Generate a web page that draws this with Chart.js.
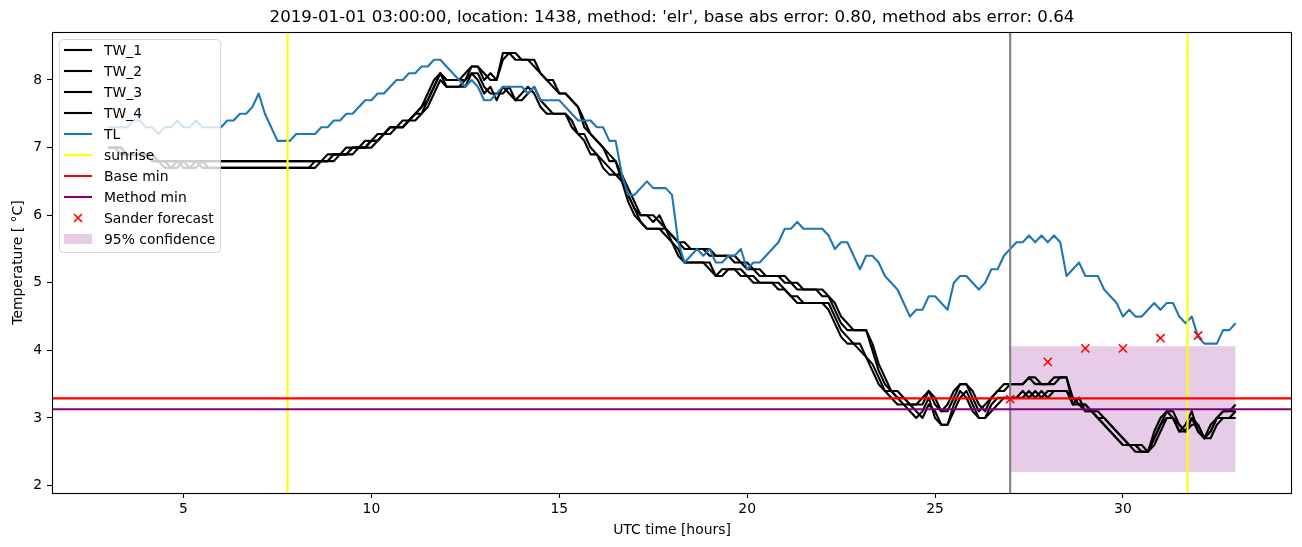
<!DOCTYPE html>
<html>
<head>
<meta charset="utf-8">
<script src="https://cdn.jsdelivr.net/npm/chart.js@4.4.1/dist/chart.umd.min.js"></script>
<style>
  html, body { margin: 0; padding: 0; background: #fff; }
</style>
</head>
<body>
<canvas id="chart" width="1302" height="547"></canvas>
<script>
// 10-minute samples from 03:00 to 33:00 UTC
const START_HOUR = 3;
const STEP_HOURS = 1 / 6;

const tw1 = [
  7.0, 7.0, 6.9, 6.9, 6.9, 6.9, 6.9, 6.8, 6.8, 6.8,
  6.8, 6.8, 6.8, 6.8, 6.8, 6.8, 6.8, 6.8, 6.8, 6.8,
  6.8, 6.8, 6.8, 6.8, 6.8, 6.8, 6.8, 6.8, 6.8, 6.8,
  6.8, 6.8, 6.8, 6.8, 6.8, 6.9, 6.9, 6.9, 7.0, 7.0,
  7.0, 7.1, 7.1, 7.2, 7.2, 7.3, 7.3, 7.4, 7.4, 7.5,
  7.6, 7.8, 8.0, 8.1, 8.0, 8.0, 8.0, 8.1, 8.2, 8.2,
  8.0, 8.1, 8.0, 8.4, 8.4, 8.3, 8.3, 8.3, 8.2, 8.1,
  8.0, 7.9, 7.8, 7.8, 7.7, 7.6, 7.3, 7.2, 7.1, 7.0,
  6.8, 6.8, 6.5, 6.3, 6.1, 6.0, 6.0, 5.9, 6.0, 5.8,
  5.7, 5.6, 5.5, 5.5, 5.5, 5.5, 5.4, 5.4, 5.4, 5.4,
  5.3, 5.3, 5.2, 5.2, 5.1, 5.1, 5.1, 5.1, 5.0, 5.0,
  4.9, 4.9, 4.9, 4.9, 4.8, 4.8, 4.6, 4.4, 4.3, 4.3,
  4.3, 4.3, 4.0, 3.7, 3.5, 3.4, 3.3, 3.3, 3.2, 3.2,
  3.3, 3.4, 3.2, 3.1, 3.2, 3.4, 3.5, 3.5, 3.3, 3.1,
  3.2, 3.3, 3.4, 3.5, 3.5, 3.5, 3.5, 3.6, 3.5, 3.5,
  3.5, 3.6, 3.6, 3.6, 3.2, 3.3, 3.1, 3.1, 3.0, 2.9,
  2.8, 2.7, 2.6, 2.6, 2.5, 2.5, 2.5, 2.8, 3.0, 3.1,
  3.0, 2.8, 2.9, 3.1, 2.8, 2.7, 2.9, 3.0, 3.1, 3.1,
  3.2
];
const tw2 = [
  7.0, 7.0, 7.0, 6.9, 6.9, 6.9, 6.9, 6.9, 6.8, 6.8,
  6.8, 6.8, 6.8, 6.8, 6.8, 6.8, 6.8, 6.8, 6.8, 6.8,
  6.8, 6.8, 6.8, 6.8, 6.8, 6.8, 6.8, 6.8, 6.8, 6.8,
  6.8, 6.8, 6.8, 6.8, 6.8, 6.8, 6.9, 6.9, 6.9, 7.0,
  7.0, 7.0, 7.1, 7.1, 7.2, 7.3, 7.3, 7.3, 7.4, 7.5,
  7.6, 7.7, 7.9, 8.1, 8.0, 8.0, 8.0, 8.0, 8.2, 8.2,
  8.1, 8.0, 8.0, 8.3, 8.4, 8.4, 8.3, 8.3, 8.3, 8.1,
  8.0, 8.0, 7.8, 7.8, 7.7, 7.6, 7.4, 7.2, 7.1, 7.0,
  6.9, 6.8, 6.6, 6.4, 6.2, 6.0, 6.0, 6.0, 5.9, 5.8,
  5.7, 5.6, 5.6, 5.5, 5.5, 5.5, 5.5, 5.4, 5.4, 5.4,
  5.4, 5.3, 5.3, 5.2, 5.2, 5.1, 5.1, 5.1, 5.1, 5.0,
  5.0, 4.9, 4.9, 4.9, 4.9, 4.8, 4.7, 4.5, 4.4, 4.3,
  4.3, 4.3, 4.1, 3.8, 3.6, 3.4, 3.4, 3.3, 3.2, 3.2,
  3.2, 3.4, 3.3, 3.1, 3.1, 3.3, 3.5, 3.5, 3.4, 3.2,
  3.1, 3.3, 3.4, 3.4, 3.5, 3.5, 3.5, 3.6, 3.6, 3.5,
  3.5, 3.5, 3.6, 3.6, 3.3, 3.2, 3.2, 3.1, 3.0, 3.0,
  2.9, 2.8, 2.7, 2.6, 2.6, 2.5, 2.5, 2.7, 2.9, 3.1,
  3.1, 2.9, 2.8, 3.0, 2.9, 2.7, 2.8, 3.0, 3.1, 3.1,
  3.1
];
const tw3 = [
  7.0, 7.0, 6.9, 6.9, 6.9, 6.9, 6.9, 6.8, 6.8, 6.7,
  6.7, 6.8, 6.7, 6.7, 6.8, 6.7, 6.7, 6.7, 6.7, 6.7,
  6.7, 6.7, 6.7, 6.7, 6.7, 6.7, 6.7, 6.7, 6.7, 6.7,
  6.7, 6.7, 6.7, 6.8, 6.8, 6.8, 6.9, 6.9, 6.9, 7.0,
  7.0, 7.0, 7.1, 7.1, 7.2, 7.3, 7.3, 7.3, 7.4, 7.5,
  7.5, 7.7, 7.9, 8.1, 7.9, 7.9, 7.9, 8.0, 8.1, 8.0,
  7.8, 7.9, 7.7, 7.9, 7.8, 7.7, 7.8, 7.9, 7.8, 7.6,
  7.5, 7.5, 7.5, 7.5, 7.3, 7.2, 7.1, 6.9, 6.9, 6.7,
  6.6, 6.6, 6.5, 6.2, 6.0, 5.9, 5.8, 5.8, 5.8, 5.7,
  5.6, 5.4, 5.3, 5.3, 5.3, 5.3, 5.2, 5.1, 5.2, 5.2,
  5.2, 5.1, 5.1, 5.0, 5.0, 5.0, 5.0, 4.9, 4.9, 4.8,
  4.7, 4.7, 4.7, 4.7, 4.7, 4.6, 4.4, 4.2, 4.1, 4.1,
  4.0, 3.9, 3.7, 3.5, 3.4, 3.3, 3.2, 3.2, 3.1, 3.0,
  3.1, 3.3, 3.0, 2.9, 2.9, 3.2, 3.4, 3.3, 3.1, 3.0,
  3.0, 3.2, 3.3, 3.3, 3.3, 3.3, 3.4, 3.3, 3.4, 3.3,
  3.4, 3.4, 3.4, 3.4, 3.2, 3.2, 3.1, 3.1, 3.0, 2.9,
  2.8, 2.7, 2.6, 2.6, 2.6, 2.5, 2.5, 2.7, 2.9, 3.0,
  3.0, 2.8, 2.8, 3.0, 2.8, 2.7, 2.8, 3.0, 3.0, 3.0,
  3.0
];
const tw4 = [
  7.0, 7.0, 7.0, 6.9, 6.9, 6.9, 6.9, 6.9, 6.8, 6.8,
  6.7, 6.7, 6.8, 6.7, 6.7, 6.8, 6.7, 6.7, 6.7, 6.7,
  6.7, 6.7, 6.7, 6.7, 6.7, 6.7, 6.7, 6.7, 6.7, 6.7,
  6.7, 6.7, 6.7, 6.7, 6.8, 6.8, 6.8, 6.9, 6.9, 6.9,
  7.0, 7.0, 7.0, 7.1, 7.2, 7.2, 7.3, 7.3, 7.4, 7.4,
  7.5, 7.6, 7.8, 8.0, 7.9, 7.9, 7.9, 7.9, 8.1, 8.1,
  7.9, 7.8, 7.8, 7.8, 7.9, 7.7, 7.7, 7.8, 7.9, 7.7,
  7.6, 7.5, 7.5, 7.5, 7.4, 7.2, 7.2, 7.0, 6.9, 6.8,
  6.7, 6.6, 6.6, 6.3, 6.1, 5.9, 5.8, 5.8, 5.8, 5.8,
  5.6, 5.5, 5.3, 5.3, 5.3, 5.3, 5.3, 5.1, 5.1, 5.2,
  5.2, 5.2, 5.1, 5.1, 5.0, 5.0, 5.0, 5.0, 4.9, 4.8,
  4.8, 4.7, 4.7, 4.7, 4.7, 4.7, 4.5, 4.3, 4.2, 4.1,
  4.1, 3.9, 3.8, 3.6, 3.4, 3.4, 3.3, 3.2, 3.2, 3.1,
  3.0, 3.2, 3.1, 2.9, 2.9, 3.1, 3.3, 3.4, 3.2, 3.0,
  3.0, 3.1, 3.2, 3.3, 3.3, 3.3, 3.3, 3.4, 3.3, 3.4,
  3.3, 3.4, 3.4, 3.4, 3.3, 3.2, 3.2, 3.1, 3.1, 3.0,
  2.9, 2.8, 2.7, 2.6, 2.6, 2.6, 2.5, 2.6, 2.8, 3.0,
  3.0, 2.9, 2.8, 2.9, 2.9, 2.7, 2.7, 2.9, 3.0, 3.0,
  3.1
];
const tl = [
  7.3, 7.3, 7.3, 7.3, 7.4, 7.4, 7.3, 7.3, 7.2, 7.3,
  7.3, 7.4, 7.3, 7.3, 7.4, 7.3, 7.3, 7.3, 7.3, 7.4,
  7.4, 7.5, 7.5, 7.6, 7.8, 7.5, 7.3, 7.1, 7.1, 7.1,
  7.2, 7.2, 7.2, 7.2, 7.3, 7.3, 7.4, 7.4, 7.5, 7.5,
  7.6, 7.7, 7.7, 7.8, 7.8, 7.9, 8.0, 8.0, 8.1, 8.1,
  8.2, 8.2, 8.3, 8.3, 8.2, 8.1, 8.0, 7.9, 8.0, 7.9,
  7.7, 7.7, 7.8, 7.9, 7.9, 7.9, 7.9, 7.8, 7.9, 7.7,
  7.7, 7.7, 7.7, 7.6, 7.5, 7.4, 7.4, 7.4, 7.3, 7.3,
  7.1, 7.1, 6.6, 6.3, 6.3, 6.4, 6.5, 6.4, 6.4, 6.4,
  6.3, 5.6, 5.3, 5.4, 5.5, 5.4, 5.5, 5.3, 5.3, 5.4,
  5.4, 5.5, 5.2, 5.3, 5.3, 5.4, 5.5, 5.6, 5.8, 5.8,
  5.9, 5.8, 5.8, 5.8, 5.8, 5.7, 5.5, 5.6, 5.6, 5.4,
  5.2, 5.4, 5.4, 5.3, 5.1, 5.0, 4.9, 4.7, 4.5, 4.6,
  4.6, 4.8, 4.8, 4.7, 4.6, 5.0, 5.1, 5.1, 5.0, 4.9,
  5.0, 5.2, 5.2, 5.4, 5.5, 5.6, 5.6, 5.7, 5.6, 5.7,
  5.6, 5.7, 5.6, 5.1, 5.2, 5.3, 5.1, 5.1, 5.1, 4.9,
  4.8, 4.7, 4.5, 4.6, 4.5, 4.5, 4.6, 4.7, 4.6, 4.7,
  4.7, 4.5, 4.4, 4.5, 4.2, 4.1, 4.1, 4.1, 4.3, 4.3,
  4.4
];

const sunriseHours = [7.77, 31.72];
const nowHour = 27;
const baseMin = 3.29;
const methodMin = 3.13;
const forecastHours = [27, 28, 29, 30, 31, 32];
const forecastTemps = [3.28, 3.83, 4.03, 4.03, 4.18, 4.22];
const confHours = [27, 33];
const confLow = [2.2, 2.2];
const confHigh = [4.06, 4.06];

const xTicks = [5, 10, 15, 20, 25, 30];
const yTicks = [2, 3, 4, 5, 6, 7, 8];
const X_MIN = 1.5, X_MAX = 34.5;
const Y_MIN = 1.89, Y_MAX = 8.71;

const TITLE = "2019-01-01 03:00:00, location: 1438, method: 'elr', base abs error: 0.80, method abs error: 0.64";
const FONT = '"DejaVu Sans", sans-serif';
const tickFont = { family: FONT, size: 13.9 };

const series = vals => vals.map((v, i) => ({ x: START_HOUR + i * STEP_HOURS, y: v }));
const pairs = (xs, ys) => xs.map((x, i) => ({ x, y: ys[i] }));
const vline = x => [{ x, y: Y_MIN }, { x, y: Y_MAX }];
const hline = y => [{ x: X_MIN, y }, { x: X_MAX, y }];

function lineDs(label, data, color, width = 2.1) {
  return {
    label, data, borderColor: color, backgroundColor: color, borderWidth: width,
    pointRadius: 0, tension: 0, fill: false, borderJoinStyle: 'round', legendKind: label ? 'line' : null,
  };
}

// plotted in the same order as the original figure; later ones sit on top
const plotted = [
  lineDs('TW_1', series(tw1), '#000000'),
  lineDs('TW_2', series(tw2), '#000000'),
  lineDs('TW_3', series(tw3), '#000000'),
  lineDs('TW_4', series(tw4), '#000000'),
  lineDs('TL', series(tl), '#1f77b4'),
  lineDs('sunrise', vline(sunriseHours[0]), '#ffff00'),
  lineDs(null, vline(sunriseHours[1]), '#ffff00'),
  lineDs(null, vline(nowHour), '#808080'),
  lineDs('Base min', hline(baseMin), '#ff0000'),
  lineDs('Method min', hline(methodMin), '#800080'),
  {
    label: 'Sander forecast', data: pairs(forecastHours, forecastTemps), showLine: false,
    pointStyle: 'crossRot', pointRadius: 5.8, pointBorderWidth: 1.6,
    borderColor: '#ff0000', backgroundColor: '#ff0000', legendKind: 'cross',
  },
];
plotted.forEach((d, i) => { d.order = 100 - i; });

const confFill = 'rgba(128,0,128,0.2)';
const confDatasets = [
  { label: null, data: pairs(confHours, confLow), borderColor: 'transparent', borderWidth: 0,
    pointRadius: 0, fill: false, order: 300 },
  { label: '95% confidence', data: pairs(confHours, confHigh), borderColor: 'transparent', borderWidth: 0,
    pointRadius: 0, fill: '-1', backgroundColor: confFill, order: 299, legendKind: 'patch' },
];

const legendEntries = plotted.concat([confDatasets[1]]).filter(d => d.legendKind);

const figurePlugin = {
  id: 'figure',
  afterDraw(chart) {
    const { ctx, chartArea: a } = chart;
    ctx.save();
    // axes frame
    ctx.strokeStyle = '#000';
    ctx.lineWidth = 1.1;
    ctx.strokeRect(Math.round(a.left) + 0.5, Math.round(a.top) + 0.5,
      Math.round(a.right - a.left) - 1, Math.round(a.bottom - a.top));
    // title
    ctx.fillStyle = '#000';
    ctx.font = '16.67px ' + FONT;
    ctx.textAlign = 'center';
    ctx.textBaseline = 'middle';
    ctx.fillText(TITLE, (a.left + a.right) / 2, 18);

    // legend, upper left
    const lx = a.left + 7, ly = a.top + 7, lw = 161, lh = 213, r = 4;
    ctx.beginPath();
    ctx.roundRect(lx + 0.5, ly + 0.5, lw, lh, r);
    ctx.fillStyle = 'rgba(255,255,255,0.8)';
    ctx.fill();
    ctx.strokeStyle = 'rgba(204,204,204,0.8)';
    ctx.lineWidth = 1;
    ctx.stroke();
    ctx.font = '13.9px ' + FONT;
    ctx.textAlign = 'left';
    legendEntries.forEach((d, i) => {
      const cy = ly + 11 + i * 21;
      const hx0 = lx + 5, hx1 = lx + 33;
      if (d.legendKind === 'line') {
        ctx.strokeStyle = d.borderColor;
        ctx.lineWidth = d.borderWidth;
        ctx.beginPath();
        ctx.moveTo(hx0, cy);
        ctx.lineTo(hx1, cy);
        ctx.stroke();
      } else if (d.legendKind === 'cross') {
        const cx = (hx0 + hx1) / 2, s = 4;
        ctx.strokeStyle = d.borderColor;
        ctx.lineWidth = d.pointBorderWidth;
        ctx.beginPath();
        ctx.moveTo(cx - s, cy - s); ctx.lineTo(cx + s, cy + s);
        ctx.moveTo(cx - s, cy + s); ctx.lineTo(cx + s, cy - s);
        ctx.stroke();
      } else {
        ctx.fillStyle = d.backgroundColor;
        ctx.fillRect(hx0, cy - 5, hx1 - hx0, 10);
      }
      ctx.fillStyle = '#000';
      ctx.fillText(d.label, lx + 45, cy + 1);
    });
    ctx.restore();
  }
};

new Chart(document.getElementById('chart'), {
  type: 'line',
  data: { datasets: plotted.concat(confDatasets) },
  options: {
    responsive: false,
    devicePixelRatio: 1,
    animation: false,
    layout: { padding: { top: 32, right: 10, bottom: 0, left: 0 } },
    plugins: { legend: { display: false }, tooltip: { enabled: false }, title: { display: false } },
    scales: {
      x: {
        type: 'linear', min: X_MIN, max: X_MAX,
        afterBuildTicks: s => { s.ticks = xTicks.map(v => ({ value: v })); },
        afterFit: s => { s.height = 54; },
        ticks: { color: '#000', font: tickFont, padding: 3, maxRotation: 0, autoSkip: false },
        grid: { drawOnChartArea: false, drawTicks: true, tickLength: 5, color: '#000', tickColor: '#000', tickWidth: 1.1 },
        border: { display: false },
        title: { display: true, text: 'UTC time [hours]', color: '#000', font: tickFont, padding: { top: 0, bottom: 8.7 } },
      },
      y: {
        type: 'linear', min: Y_MIN, max: Y_MAX,
        afterBuildTicks: s => { s.ticks = yTicks.map(v => ({ value: v })); },
        afterFit: s => { s.width = 52; },
        ticks: { color: '#000', font: tickFont, padding: 5 },
        grid: { drawOnChartArea: false, drawTicks: true, tickLength: 5, color: '#000', tickColor: '#000', tickWidth: 1.1 },
        border: { display: false },
        title: { display: true, text: 'Temperature [ °C]', color: '#000', font: tickFont, padding: { top: 9.7, bottom: 0 } },
      },
    },
  },
  plugins: [figurePlugin],
});
</script>
</body>
</html>
